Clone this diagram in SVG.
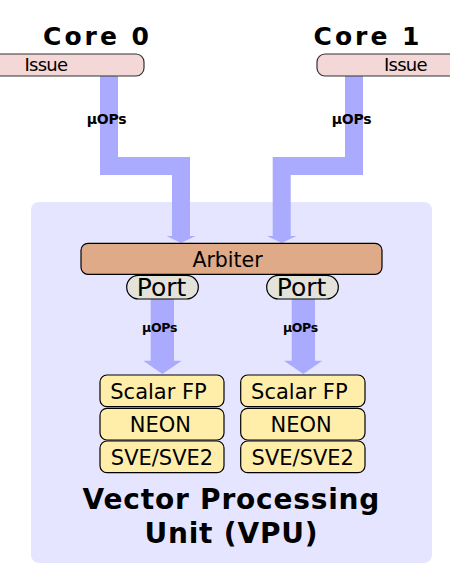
<svg xmlns="http://www.w3.org/2000/svg" width="450" height="583" viewBox="0 0 450 583">
<style>
.t{font-family:"DejaVu Sans",sans-serif;fill:#000;text-anchor:middle}
.title{font-weight:bold;font-size:25px;letter-spacing:3px}
.vpu{font-weight:bold;font-size:28px;letter-spacing:0.8px}
.lbl{font-size:21px}
.arb{font-size:20.5px}
.port{font-size:25px}
.uop{font-weight:bold;font-size:14px;letter-spacing:-0.3px}
.uop2{font-weight:bold;font-size:12.5px;letter-spacing:-0.3px}
.iss{font-size:18px;letter-spacing:-0.8px}
.flow{fill:none;stroke:#aaaaff;stroke-width:18}
.head{fill:#aaaaff}
.box{stroke:#000;stroke-width:1.2}
.issue{fill:#f4d7d7;stroke:#333;stroke-width:1.2}
.ex{fill:#ffeeaa;stroke:#000;stroke-width:1.2}
</style>
<rect width="450" height="583" fill="#fff"/>
<g id="vpu">
<rect x="31" y="202" width="401" height="361" rx="8" fill="#e5e5ff"/>
<text class="t vpu" x="231.4" y="509">Vector Processing</text>
<text class="t vpu" x="231.4" y="543.3">Unit (VPU)</text>
</g>
<g id="connectors">
<polyline class="flow" points="109,76 109,166 181,166 181,237"/>
<polygon class="head" points="166.5,236 195.5,236 181,243"/>
<polyline class="flow" points="354,76 354,166 281.7,166 281.7,237"/>
<polygon class="head" points="267,236 296.5,236 281.7,243"/>
<rect x="150.7" y="299" width="23.3" height="62" fill="#aaaaff"/>
<polygon class="head" points="143.3,360.7 181.7,360.7 162.4,374"/>
<rect x="291.7" y="299" width="23.3" height="62" fill="#aaaaff"/>
<polygon class="head" points="284,360.7 322.3,360.7 303.3,374"/>
<text class="t uop" x="106.5" y="124">µOPs</text>
<text class="t uop" x="351.5" y="124">µOPs</text>
<text class="t uop2" x="159.6" y="332.3">µOPs</text>
<text class="t uop2" x="300.4" y="332.3">µOPs</text>
</g>
<g id="core0">
<text class="t title" x="97.5" y="45">Core 0</text>
</g>
<g id="core1">
<text class="t title" x="368" y="45">Core 1</text>
</g>
<g id="issue0">
<rect class="issue" x="-20" y="54" width="164" height="22" rx="8"/>
<text class="t iss" x="45.9" y="71">Issue</text>
</g>
<g id="issue1">
<rect class="issue" x="317" y="54" width="160" height="22" rx="8"/>
<text class="t iss" x="405.4" y="71">Issue</text>
</g>
<g id="arbiter">
<rect class="box" x="81" y="243.3" width="301" height="31" rx="7" fill="#deaa87"/>
<text class="t arb" x="227.5" y="267.3">Arbiter</text>
</g>
<g id="port0">
<rect class="box" x="126.7" y="275.3" width="71.6" height="23.7" rx="11.8" fill="#e3e3db"/>
<text class="t port" x="161.5" y="295.8">Port</text>
</g>
<g id="port1">
<rect class="box" x="266.7" y="275.3" width="71.6" height="23.7" rx="11.8" fill="#e3e3db"/>
<text class="t port" x="301.5" y="295.8">Port</text>
</g>
<g id="scalar0">
<rect class="ex" x="100" y="375" width="124" height="31.7" rx="7"/>
<text class="t lbl" x="158.5" y="399">Scalar FP</text>
</g>
<g id="neon0">
<rect class="ex" x="100" y="408.3" width="124" height="31.7" rx="7"/>
<text class="t lbl" x="160.4" y="432">NEON</text>
</g>
<g id="sve0">
<rect class="ex" x="100" y="441" width="124" height="31.7" rx="7"/>
<text class="t lbl" x="162" y="464.5">SVE/SVE2</text>
</g>
<g id="scalar1">
<rect class="ex" x="240.7" y="375" width="124.3" height="31.7" rx="7"/>
<text class="t lbl" x="299.3" y="399">Scalar FP</text>
</g>
<g id="neon1">
<rect class="ex" x="240.7" y="408.3" width="124.3" height="31.7" rx="7"/>
<text class="t lbl" x="301.2" y="432">NEON</text>
</g>
<g id="sve1">
<rect class="ex" x="240.7" y="441" width="124.3" height="31.7" rx="7"/>
<text class="t lbl" x="302.8" y="464.5">SVE/SVE2</text>
</g>
</svg>
